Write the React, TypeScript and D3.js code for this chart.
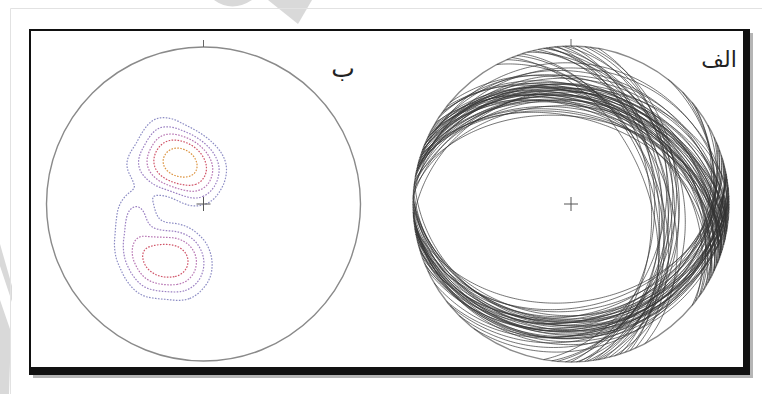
import React, { useMemo } from 'react';
import * as d3 from 'd3';

const W = 762;
const H = 394;

// Great circles, north-dipping set (dip direction °, dip °)
const northDipDirs = [8, 12, 15, 5, 18, 10, 20, 14, 22, 6, 16, 25, 3, 11, 28, 19, 9, 13, 30, 17, 24, 7, 35, 21, 2, 27, 14, 10, 33, 18, 355, 38, 12, 23, 20, 26, 17, 29, 13, 22, 31, 36, 19, 25, 40, 15];
const northDips = [32, 35, 30, 38, 33, 28, 36, 40, 31, 25, 42, 34, 30, 22, 37, 29, 44, 26, 33, 38, 27, 35, 30, 18, 15, 41, 12, 20, 24, 45, 28, 36, 33, 39, 34, 31, 37, 35, 30, 29, 40, 33, 27, 36, 28, 43];

// Great circles, south-dipping set
const southDipDirs = [172, 168, 175, 178, 165, 170, 180, 162, 176, 185, 170, 158, 174, 182, 166, 150, 173, 188, 160, 177, 135, 128, 142, 169, 179, 164, 171, 155, 183, 167, 174, 169, 177, 163, 181, 140, 171, 157];
const southDips = [22, 25, 20, 28, 18, 30, 24, 27, 16, 21, 33, 23, 14, 26, 35, 20, 19, 24, 31, 12, 15, 12, 22, 27, 30, 17, 38, 25, 18, 21, 26, 21, 23, 29, 27, 18, 16, 28];

// Great circles, east-dipping set
const eastDipDirs = [62, 70, 76, 82, 87, 90, 95, 68, 80, 100, 74, 85, 78, 84, 66, 92, 72, 88, 97, 81];
const eastDips = [40, 45, 38, 44, 42, 46, 36, 50, 33, 40, 30, 48, 42, 35, 44, 38, 47, 32, 34, 39];

// Poles for the density plot: NW cluster (trend °, plunge °)
const nwPoleTrends = [329, 325, 335, 330, 320, 338, 327, 332, 315, 342, 324, 336, 310, 348, 330, 318, 340, 305, 352, 322, 333, 345, 312, 328, 300, 355, 317, 338, 308, 0, 326, 334, 321, 343, 314, 331, 350, 5, 325, 335, 20, 15, 295, 302, 330, 355, 10, 300];
const nwPolePlunges = [65, 66, 64, 68, 63, 67, 62, 70, 65, 64, 59, 60, 62, 68, 57, 70, 72, 66, 62, 55, 75, 58, 57, 52, 60, 70, 50, 54, 53, 66, 72, 61, 67, 63, 60, 48, 76, 72, 42, 44, 74, 68, 50, 45, 82, 80, 84, 80];

// Poles for the density plot: SW cluster
const swPoleTrends = [212, 208, 216, 210, 205, 220, 214, 202, 218, 209, 225, 198, 213, 206, 222, 195, 230, 215, 200, 228, 192, 235, 188, 220, 207, 240, 224, 215, 230, 199, 232, 190, 238, 226, 234, 179, 184, 195, 212, 247];
const swPolePlunges = [54, 56, 52, 50, 58, 55, 60, 52, 48, 62, 50, 56, 45, 46, 60, 60, 52, 42, 48, 44, 52, 46, 58, 38, 66, 40, 54, 70, 65, 64, 57, 45, 50, 39, 49, 53, 66, 42, 36, 48];

// Poles for the density plot: W scatter
const wPoleTrends = [262, 256, 268, 252, 260, 272];
const wPolePlunges = [54, 50, 57, 52, 58, 51];

const contourFractions = [0.11, 0.22, 0.35, 0.5, 0.74];
const contourColors = ['#8c8cc4', '#9a7fc2', '#b673b2', '#d05468', '#dc9442'];

const labelLeft = 'ب';
const labelRight = 'الف';

const RAD = Math.PI / 180;

// Lower-hemisphere equal-area position of a line, unit primitive radius
function lineToDisk(trend: number, plunge: number): [number, number] {
  const r = Math.SQRT2 * Math.sin(((90 - plunge) * RAD) / 2);
  return [r * Math.sin(trend * RAD), r * Math.cos(trend * RAD)];
}

// Points along the great circle of a plane
function greatCircle(dipDir: number, dip: number): [number, number][] {
  const s = (dipDir - 90) * RAD;
  const dd = dipDir * RAD;
  const dp = dip * RAD;
  const sv = [Math.cos(s), Math.sin(s), 0];
  const dv = [Math.cos(dd) * Math.cos(dp), Math.sin(dd) * Math.cos(dp), Math.sin(dp)];
  const pts: [number, number][] = [];
  for (let a = 0; a <= 180; a += 1) {
    const ca = Math.cos(a * RAD);
    const sa = Math.sin(a * RAD);
    const n = ca * sv[0] + sa * dv[0];
    const e = ca * sv[1] + sa * dv[1];
    const d = Math.max(0, Math.min(1, ca * sv[2] + sa * dv[2]));
    const plunge = Math.asin(d) / RAD;
    const trend = Math.atan2(e, n) / RAD;
    pts.push(lineToDisk(trend, plunge));
  }
  return pts;
}

function Net({ cx, cy, R, label, labelX, labelY, labelSize, children }: any) {
  return (
    <g>
      <circle cx={cx} cy={cy} r={R} fill="none" stroke="#8a8a8a" strokeWidth={1.4} />
      <line x1={cx} x2={cx} y1={cy - R - 7} y2={cy - R} stroke="#666" strokeWidth={1} />
      {children}
      <line x1={cx - 7} x2={cx + 7} y1={cy} y2={cy} stroke="#555" strokeWidth={1} />
      <line x1={cx} x2={cx} y1={cy - 7} y2={cy + 7} stroke="#555" strokeWidth={1} />
      <text x={labelX} y={labelY} textAnchor="middle" fontFamily="DejaVu Sans" fontSize={labelSize} fill="#222">
        {label}
      </text>
    </g>
  );
}

export default function App() {
  const right = { cx: 571, cy: 204, R: 158 };
  const left = { cx: 203.5, cy: 204, R: 157 };

  const rx = d3.scaleLinear().domain([-1, 1]).range([right.cx - right.R, right.cx + right.R]);
  const ry = d3.scaleLinear().domain([-1, 1]).range([right.cy + right.R, right.cy - right.R]);
  const lx = d3.scaleLinear().domain([-1, 1]).range([left.cx - left.R, left.cx + left.R]);
  const ly = d3.scaleLinear().domain([-1, 1]).range([left.cy + left.R, left.cy - left.R]);

  const arcs = useMemo(() => {
    const planes: [number, number][] = [];
    northDipDirs.forEach((d, i) => planes.push([d, northDips[i]]));
    southDipDirs.forEach((d, i) => planes.push([d, southDips[i]]));
    eastDipDirs.forEach((d, i) => planes.push([d, eastDips[i]]));
    const line = d3
      .line<[number, number]>()
      .x((p) => rx(p[0]))
      .y((p) => ry(p[1]));
    return planes.map(([d, p]) => line(greatCircle(d, p)) as string);
  }, []);

  const contours = useMemo(() => {
    const trends = [...nwPoleTrends, ...swPoleTrends, ...wPoleTrends];
    const plunges = [...nwPolePlunges, ...swPolePlunges, ...wPolePlunges];
    const pts = trends.map((t, i) => {
      const [x, y] = lineToDisk(t, plunges[i]);
      return [lx(x), ly(y)] as [number, number];
    });
    const density = d3
      .contourDensity<[number, number]>()
      .x((p) => p[0])
      .y((p) => p[1])
      .size([W, H])
      .cellSize(3)
      .bandwidth(12);
    const gen: any = density.contours(pts);
    const path = d3.geoPath();
    return contourFractions.map((f, i) => ({
      d: path(gen(gen.max * f)) as string,
      color: contourColors[i],
    }));
  }, []);

  return (
    <svg width={W} height={H} style={{ position: 'absolute', left: 0, top: 0, background: '#fff' }}>
      <rect x={0} y={0} width={W} height={H} fill="#fff" />
      {/* faint marks along the page edge */}
      <g fill="#d9d9d9">
        <path d="M214,0 Q232,13 252,0 Z" />
        <path d="M268,0 L312,0 L298,24 Z" />
        <path d="M0,244 L12,286 L12,302 L0,266 Z" />
        <path d="M0,300 L11,332 L9,394 L0,394 Z" />
      </g>
      {/* outer light page edge */}
      <path d={`M10.5,${H} V8.5 H${W}`} fill="none" stroke="#e2e2e2" strokeWidth={1} />
      {/* frame with drop shadow */}
      <rect x={33} y={33} width={720} height={345} fill="#b5b5b5" />
      <rect x={29} y={29} width={721} height={346} fill="#111" />
      <rect x={31} y={31} width={712} height={336} fill="#fff" />

      <Net {...left} label={labelLeft} labelX={343} labelY={77} labelSize={25}>
        {contours.map((c, i) => (
          <path key={i} d={c.d} fill="none" stroke={c.color} strokeWidth={1.2} strokeDasharray="1.6 1.4" />
        ))}
      </Net>

      <Net {...right} label={labelRight} labelX={719} labelY={67} labelSize={22}>
        <g fill="none" stroke="#333" strokeWidth={0.85} strokeOpacity={0.8}>
          {arcs.map((d, i) => (
            <path key={i} d={d} />
          ))}
        </g>
      </Net>
    </svg>
  );
}
